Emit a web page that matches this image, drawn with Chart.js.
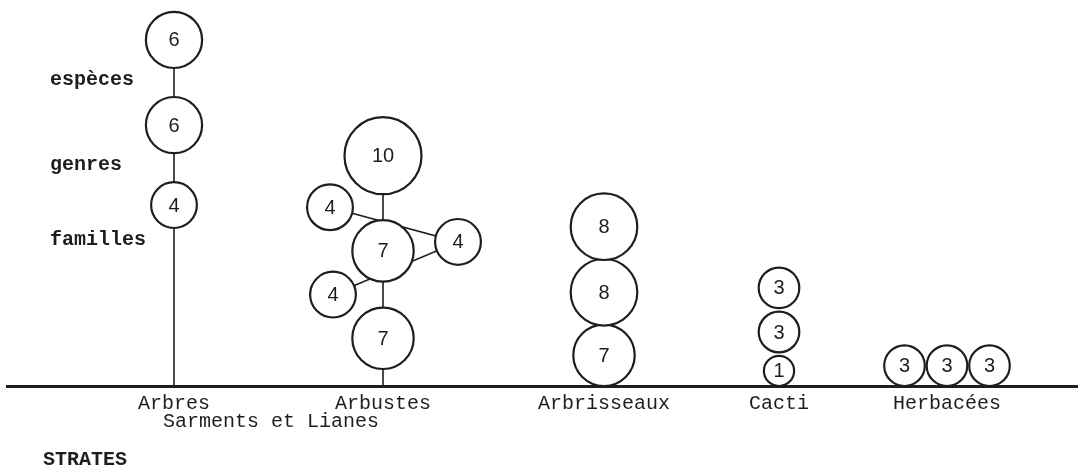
<!DOCTYPE html>
<html>
<head>
<meta charset="utf-8">
<script src="https://cdn.jsdelivr.net/npm/chart.js@4.4.1/dist/chart.umd.min.js"></script>
<style>
  html, body { margin: 0; padding: 0; background: #fff; }
  #wrap { width: 1078px; height: 472px; position: relative; }
</style>
</head>
<body>
<div id="wrap"><canvas id="chart"></canvas></div>
<script>
const strata = ['Arbres', 'Arbustes', 'Arbrisseaux', 'Cacti', 'Herbacées'];
const familles = [4, 7, 7, 1, 3];
const genres = [6, 7, 8, 3, 3];
const especes = [6, 10, 8, 3, 3];
const lianes = [4, 4, 4]; // Sarments et Lianes: familles, genres, espèces
const lianesLabel = 'Sarments et Lianes';
const levels = ['familles', 'genres', 'espèces'];

// drawing layout (y units = pixels above the ground line)
const strataX = [174, 383, 604, 779, 947];
const lianesX = 271;
const stackMode = ['stack', 'stack', 'stack', 'stack', 'row'];
const stackLift = [158, 17, 0, 0, 0];
const stackGap = [29, 26, -1, 3.5, 1.9];
const lianesDx = [-50, 75, -53];
const ink = '#1e1e1e';

const radius = v => 12.5 + 2.6 * v;

const circles = [];
const lines = [];
const stacks = [];

strata.forEach((name, i) => {
  const vals = [familles[i], genres[i], especes[i]];
  let pos = stackLift[i];
  const pts = vals.map((v, k) => {
    const r = radius(v);
    if (stackMode[i] === 'row') {
      return {x: strataX[i] + (k - 1) * (2 * r + stackGap[i]), y: stackLift[i] + r, r, v};
    }
    const c = {x: strataX[i], y: pos + r, r, v};
    pos += 2 * r + stackGap[i];
    return c;
  });
  stacks.push(pts);
  circles.push(...pts);
  // stem from the ground up to the top circle
  if (stackMode[i] === 'stack' && stackLift[i] > 5) {
    lines.push([{x: strataX[i], y: 0}, {x: strataX[i], y: pts[2].y}]);
  }
});

// Sarments et Lianes zigzag around the Arbustes stack
const arb = stacks[1];
const lianeY = [
  (arb[0].y + arb[0].r + arb[1].y - arb[1].r) / 2,
  arb[1].y + 9,
  (arb[1].y + arb[1].r + arb[2].y - arb[2].r) / 2
];
const lianePts = lianes.map((v, k) => ({x: strataX[1] + lianesDx[k], y: lianeY[k], r: radius(v), v}));
circles.push(...lianePts);
lines.push(lianePts.slice().reverse().map(p => ({x: p.x, y: p.y})));

// row labels sit just under the Arbres circles
const levelY = stacks[0].map(c => c.y - c.r - 12);

const tickValues = strataX.concat([lianesX]).sort((a, b) => a - b);

const textPlugin = {
  id: 'texts',
  afterDatasetsDraw(chart) {
    const ctx = chart.ctx;
    const xs = chart.scales.x, ys = chart.scales.y;
    ctx.save();
    ctx.fillStyle = ink;
    ctx.textAlign = 'center';
    ctx.textBaseline = 'middle';
    ctx.font = '20px "Liberation Sans"';
    const meta = chart.getDatasetMeta(chart.data.datasets.length - 1);
    meta.data.forEach((el, i) => {
      ctx.fillText(String(circles[i].v), el.x, el.y + 1);
    });
    ctx.textAlign = 'left';
    ctx.font = 'bold 20px "Liberation Mono"';
    levels.forEach((l, i) => {
      ctx.fillText(l, xs.getPixelForValue(50), ys.getPixelForValue(levelY[i]));
    });
    ctx.restore();
  }
};

const datasets = lines.map(pts => ({
  type: 'line',
  data: pts,
  borderColor: ink,
  borderWidth: 1.6,
  pointRadius: 0,
  fill: false,
  order: 2
}));
datasets.push({
  type: 'bubble',
  data: circles.map(c => ({x: c.x, y: c.y, r: c.r})),
  backgroundColor: '#fff',
  borderColor: ink,
  borderWidth: 2.2,
  clip: false,
  order: 1
});

new Chart(document.getElementById('chart'), {
  type: 'bubble',
  data: {datasets},
  plugins: [textPlugin],
  options: {
    responsive: true,
    maintainAspectRatio: false,
    animation: false,
    events: [],
    layout: {autoPadding: false, padding: {left: 7, right: 0, top: 0, bottom: 0}},
    plugins: {legend: {display: false}, tooltip: {enabled: false}},
    scales: {
      x: {
        type: 'linear',
        min: 7,
        max: 1078,
        grid: {display: false, drawTicks: false},
        border: {display: true, color: ink, width: 3},
        afterBuildTicks: scale => { scale.ticks = tickValues.map(v => ({value: v})); },
        ticks: {
          autoSkip: false,
          maxRotation: 0,
          padding: 9,
          color: ink,
          font: {family: 'Liberation Mono', size: 20, lineHeight: 0.9},
          callback: value => {
            const i = strataX.indexOf(value);
            if (i >= 0) return strata[i];
            if (value === lianesX) return ['', lianesLabel];
            return '';
          }
        },
        title: {
          display: true,
          text: '   STRATES',
          align: 'start',
          color: ink,
          font: {family: 'Liberation Mono', size: 20, weight: 'bold', lineHeight: 1.2},
          padding: {top: 8, bottom: 0}
        }
      },
      y: {type: 'linear', display: false, min: 0, max: 386}
    }
  }
});
</script>
</body>
</html>
